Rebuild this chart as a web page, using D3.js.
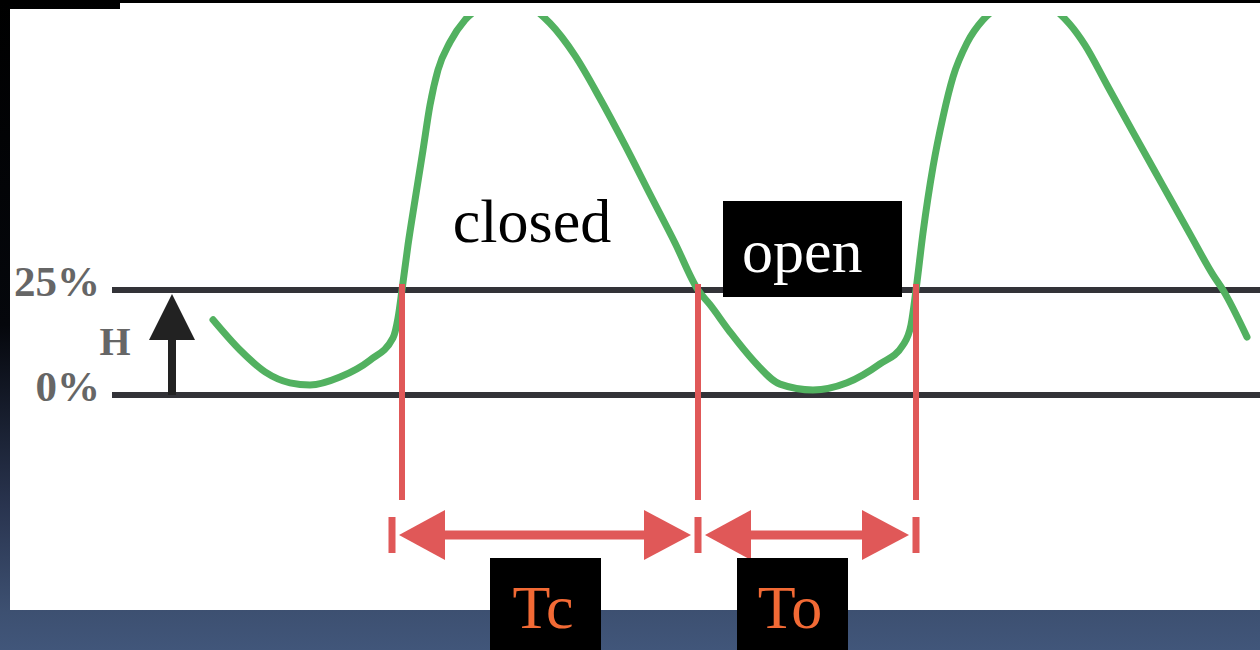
<!DOCTYPE html>
<html>
<head>
<meta charset="utf-8">
<script src="https://cdn.jsdelivr.net/npm/d3@7"></script>
<style>
  html, body { margin: 0; padding: 0; background: #000; }
  svg { display: block; }
</style>
</head>
<body>
<svg id="chart"></svg>
<script>
// level signal (time in arbitrary units, level in %)
const timeVals = [10.3, 13.0, 15.5, 18.0, 20.0, 23.0, 26.0, 28.3, 28.8, 29.2,
  29.8, 30.5, 31.3, 32.0, 32.8, 34.0, 35.5, 37.5, 39.7, 42.0,
  44.0, 46.5, 49.0, 51.5, 54.0, 56.5, 58.8, 60.0, 62.0, 64.3,
  67.0, 70.3, 73.7, 77.0, 79.3, 80.1, 80.6, 81.3, 82.3, 83.3,
  84.3, 85.7, 87.3, 89.0, 91.5, 94.0, 96.0, 97.5, 99.7, 102.3,
  105.3, 108.0, 110.3, 111.3, 113.7];
const levelPct = [17.9, 10.7, 5.5, 2.9, 2.4, 4.3, 8.3, 13.6, 18.3, 25.0,
  35.7, 46.4, 58.3, 69.0, 77.4, 84.0, 89.3, 92.6, 93.6, 92.4,
  88.5, 80.8, 70.6, 59.5, 47.8, 36.2, 25.0, 21.5, 15.0, 8.3,
  2.6, 1.2, 2.9, 7.4, 11.9, 16.7, 25.0, 38.6, 54.3, 66.2,
  75.7, 83.8, 89.3, 92.4, 93.6, 92.4, 88.2, 83.3, 73.8, 62.6,
  49.8, 38.3, 28.6, 25.0, 13.8];

const thresholdPct = [25, 0];
const thresholdLabels = ["25%", "0%"];
const crossTimes = [29.2, 58.8, 80.6];
const periodLabels = ["Tc", "To"];
const stateLabels = ["closed", "open"];

const W = 1260, H = 650;
const serif = "'Liberation Serif', 'Times New Roman', serif";

const svg = d3.select("#chart").attr("width", W).attr("height", H);
const defs = svg.append("defs");

const bg = defs.append("linearGradient").attr("id", "bg")
  .attr("x1", 0).attr("y1", 0).attr("x2", 0).attr("y2", 1);
[[0, "#000"], [0.5, "#05070c"], [0.78, "#29344f"], [0.94, "#3d5071"], [1, "#41567a"]]
  .forEach(s => bg.append("stop").attr("offset", s[0]).attr("stop-color", s[1]));

defs.append("clipPath").attr("id", "plotClip")
  .append("rect").attr("x", 10).attr("y", 16).attr("width", W - 10).attr("height", 594);

// background and white panel
svg.append("rect").attr("width", W).attr("height", H).attr("fill", "url(#bg)");
svg.append("rect").attr("x", 10).attr("y", 9).attr("width", W - 10).attr("height", 601).attr("fill", "#fff");
svg.append("rect").attr("x", 120).attr("y", 3).attr("width", W - 120).attr("height", 10).attr("fill", "#fff");

const x = d3.scaleLinear().domain([0, 115]).range([110, 1260]);
const y = d3.scaleLinear().domain([0, 25]).range([395, 290]);

// threshold lines
svg.append("g").selectAll("line")
  .data(thresholdPct)
  .join("line")
  .attr("x1", x(0.2)).attr("x2", W)
  .attr("y1", d => y(d)).attr("y2", d => y(d))
  .attr("stroke", "#333338")
  .attr("stroke-width", 6);

// threshold labels
svg.append("g").selectAll("text")
  .data(thresholdPct)
  .join("text")
  .attr("x", 100)
  .attr("y", d => y(d) + 6)
  .attr("text-anchor", "end")
  .style("font-family", serif)
  .style("font-weight", "bold")
  .style("font-size", "43px")
  .attr("fill", "#666")
  .text((d, i) => thresholdLabels[i]);

svg.append("text")
  .attr("x", 115).attr("y", (y(0) + y(25)) / 2 + 12)
  .attr("text-anchor", "middle")
  .style("font-family", serif)
  .style("font-weight", "bold")
  .style("font-size", "40px")
  .attr("fill", "#666")
  .text("H");

// H arrow
const ax = 172;
svg.append("line")
  .attr("x1", ax).attr("x2", ax)
  .attr("y1", y(0)).attr("y2", y(25) + 40)
  .attr("stroke", "#222").attr("stroke-width", 8);
svg.append("path")
  .attr("d", `M${ax},${y(25) + 4} L${ax + 23},${y(25) + 50} L${ax - 23},${y(25) + 50} Z`)
  .attr("fill", "#222");

// level curve
const line = d3.line()
  .x((d, i) => x(timeVals[i]))
  .y(d => y(d))
  .curve(d3.curveMonotoneX);

svg.append("path")
  .datum(levelPct)
  .attr("clip-path", "url(#plotClip)")
  .attr("fill", "none")
  .attr("stroke", "#52b160")
  .attr("stroke-width", 7)
  .attr("stroke-linejoin", "round")
  .attr("stroke-linecap", "round")
  .attr("d", line);

// red markers at the crossings
const red = "#e05858";
svg.append("g").selectAll("line")
  .data(crossTimes)
  .join("line")
  .attr("x1", d => x(d)).attr("x2", d => x(d))
  .attr("y1", y(25) - 6).attr("y2", 500)
  .attr("stroke", red)
  .attr("stroke-width", 6);

// period arrows
const ay = 535;
const tickX = crossTimes.map((d, i) => x(d) + (i === 0 ? -10 : 0));
const arrows = svg.append("g");
arrows.selectAll("rect.tick")
  .data(tickX)
  .join("rect")
  .attr("class", "tick")
  .attr("x", d => d - 3.5).attr("y", ay - 18)
  .attr("width", 7).attr("height", 36)
  .attr("fill", red);

periodLabels.forEach((lab, i) => {
  const a = tickX[i], b = x(crossTimes[i + 1]);
  const l0 = a + 7, l1 = a + 53, r0 = b - 7, r1 = b - 54;
  arrows.append("line")
    .attr("x1", l0 + 10).attr("x2", r0 - 10)
    .attr("y1", ay).attr("y2", ay)
    .attr("stroke", red).attr("stroke-width", 9);
  arrows.append("path")
    .attr("d", `M${l0},${ay} L${l1},${ay - 25} L${l1},${ay + 25} Z`)
    .attr("fill", red);
  arrows.append("path")
    .attr("d", `M${r0},${ay} L${r1},${ay - 25} L${r1},${ay + 25} Z`)
    .attr("fill", red);
});

// period label boxes
const boxShift = [-5, -15];
periodLabels.forEach((lab, i) => {
  const cx = (x(crossTimes[i]) + x(crossTimes[i + 1])) / 2 + boxShift[i];
  svg.append("rect")
    .attr("x", cx - 55).attr("y", 558)
    .attr("width", 111).attr("height", H - 558)
    .attr("fill", "#000");
  svg.append("text")
    .attr("x", cx - 2).attr("y", 628)
    .attr("text-anchor", "middle")
    .style("font-family", serif)
    .style("font-size", "62px")
    .attr("fill", "#f26a35")
    .text(lab);
});

// state labels
svg.append("text")
  .attr("x", 532).attr("y", 242)
  .attr("text-anchor", "middle")
  .style("font-family", serif)
  .style("font-size", "62px")
  .attr("fill", "#000")
  .text(stateLabels[0]);

svg.append("rect")
  .attr("x", 723).attr("y", 201)
  .attr("width", 179).attr("height", 96)
  .attr("fill", "#000");
svg.append("text")
  .attr("x", 742).attr("y", 272)
  .style("font-family", serif)
  .style("font-size", "62px")
  .attr("fill", "#fff")
  .text(stateLabels[1]);

// thin black strip at the top
svg.append("rect").attr("x", 0).attr("y", 0).attr("width", W).attr("height", 3).attr("fill", "#000");
</script>
</body>
</html>
